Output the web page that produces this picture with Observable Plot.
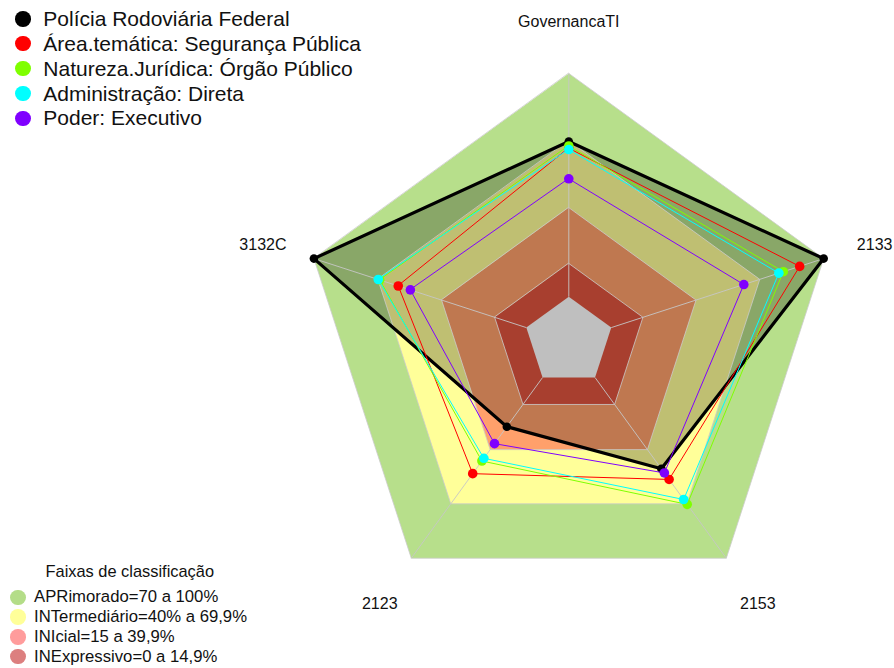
<!DOCTYPE html>
<html>
<head>
<meta charset="utf-8">
<script src="https://cdn.jsdelivr.net/npm/d3@7"></script>
<script src="https://cdn.jsdelivr.net/npm/@observablehq/plot@0.6"></script>
<style>
  body { margin: 0; background: #fff; font-family: "Liberation Sans", Arial, sans-serif; }
  #wrap { position: relative; width: 894px; height: 668px; overflow: hidden; }
  #wrap svg { position: absolute; left: 0; top: 0; }
  .row { position: absolute; display: flex; align-items: center; white-space: nowrap; color: #111; }
  .dot { border-radius: 50%; flex: none; }
  .ttl { position: absolute; white-space: nowrap; color: #111; }
</style>
</head>
<body>
<div id="wrap"></div>
<script>
// ---- data ----
const axisLabels = ["GovernancaTI", "2133", "2153", "2123", "3132C"];
const seriesNames = [
  "Polícia Rodoviária Federal",
  "Área.temática: Segurança Pública",
  "Natureza.Jurídica: Órgão Público",
  "Administração: Direta",
  "Poder: Executivo"
];
const prf           = [69.5, 100.0, 50.5, 27.2, 100.0];
const areaTematica  = [66.5,  88.7, 56.4, 53.2,  60.3];
const natureza      = [67.5,  81.0, 70.2, 46.2,  69.0];
const administracao = [65.9,  78.9, 67.5, 44.7,  69.7];
const poder         = [52.8,  62.4, 52.8, 36.6,  54.6];
const bandUpper = [100, 69.9, 39.9, 14.9];
const bandNames = [
  "APRimorado=70 a 100%",
  "INTermediário=40% a 69,9%",
  "INIcial=15 a 39,9%",
  "INExpressivo=0 a 14,9%"
];
const legendTitle = "Faixas de classificação";

// ---- palette ----
const seriesColors = ["#000000", "#ff0000", "#7fff00", "#00ffff", "#8000ff"];
const bandColors = ["#b7df8b", "#ffff99", "#ffa06b", "#e0553f"];
const bandLegendColors = ["#b4dd88", "#ffff99", "#ff9c9c", "#dc7f7f"];

const seriesValues = [prf, areaTematica, natureza, administracao, poder];

// ---- geometry helpers (radial scale with inner offset) ----
const r0 = 1 / 6;
const rad = v => r0 + (v / 100) * (1 - r0);
const ang = i => Math.PI / 2 - i * 2 * Math.PI / axisLabels.length;
const ring = vals => axisLabels.map((a, i) => ({
  axis: a,
  value: vals[i],
  px: rad(vals[i]) * Math.cos(ang(i)),
  py: rad(vals[i]) * Math.sin(ang(i))
}));
const constRing = v => ring(axisLabels.map(() => v));

const marks = [];
// background bands
bandUpper.forEach((u, k) => {
  marks.push(Plot.line(constRing(u), {x: "px", y: "py", curve: "linear-closed", fill: bandColors[k], stroke: "none"}));
});
// empty centre
marks.push(Plot.line(constRing(0), {x: "px", y: "py", curve: "linear-closed", fill: "#ffffff", stroke: "none"}));
// main series translucent fill
marks.push(Plot.line(ring(prf), {x: "px", y: "py", curve: "linear-closed", fill: "#000000", fillOpacity: 0.25, stroke: "none"}));
// band edges
bandUpper.forEach(u => {
  marks.push(Plot.line(constRing(u), {x: "px", y: "py", curve: "linear-closed", stroke: "#cccccc", strokeWidth: 0.8, fill: "none"}));
});
// axes
marks.push(Plot.link(axisLabels, {
  x1: (d, i) => rad(0) * Math.cos(ang(i)),
  y1: (d, i) => rad(0) * Math.sin(ang(i)),
  x2: (d, i) => rad(100) * Math.cos(ang(i)),
  y2: (d, i) => rad(100) * Math.sin(ang(i)),
  stroke: "#c6c6c6", strokeWidth: 0.9
}));
// series
seriesValues.forEach((vals, s) => {
  const pts = ring(vals);
  marks.push(Plot.line(pts, {x: "px", y: "py", curve: "linear-closed", stroke: seriesColors[s], strokeWidth: s === 0 ? 3.2 : 1, fill: "none"}));
  marks.push(Plot.dot(pts, {x: "px", y: "py", r: s === 0 ? 4.3 : 4.8, fill: seriesColors[s], stroke: "none"}));
});
// axis labels
marks.push(Plot.text(axisLabels, {
  x: (d, i) => 1.2 * Math.cos(ang(i)),
  y: (d, i) => 1.2 * Math.sin(ang(i)),
  text: d => d,
  fontSize: 16,
  dy: 2.5,
  fill: "#111",
  textAnchor: "middle"
}));

const R = 268, cx = 568.3, cy = 340.9, W = 894, H = 668;
const chart = Plot.plot({
  width: W,
  height: H,
  marginLeft: cx - R,
  marginRight: W - (cx + R),
  marginTop: cy - R,
  marginBottom: H - (cy + R),
  x: {domain: [-1, 1], axis: null},
  y: {domain: [-1, 1], axis: null},
  style: {fontFamily: "'Liberation Sans', Arial, sans-serif", background: "transparent", overflow: "visible"},
  marks
});
const wrap = document.getElementById("wrap");
wrap.appendChild(chart);

// ---- legends (HTML) ----
function addRow(text, color, top, left, dotSize, fontSize, gap) {
  const row = document.createElement("div");
  row.className = "row";
  row.style.left = left + "px";
  row.style.top = top + "px";
  row.style.height = "0px";
  row.style.fontSize = fontSize + "px";
  const dot = document.createElement("span");
  dot.className = "dot";
  dot.style.width = dotSize + "px";
  dot.style.height = dotSize + "px";
  dot.style.background = color;
  dot.style.marginRight = gap + "px";
  const t = document.createElement("span");
  t.textContent = text;
  row.appendChild(dot);
  row.appendChild(t);
  wrap.appendChild(row);
}
seriesNames.forEach((n, i) => addRow(n, seriesColors[i], 18.8 + i * 24.9, 15.3, 15.5, 21, 12.5));
const title = document.createElement("div");
title.className = "ttl";
title.textContent = legendTitle;
title.style.fontSize = "16.4px";
title.style.left = "45.5px";
title.style.top = (571 - 10) + "px";
title.style.lineHeight = "20px";
wrap.appendChild(title);
bandNames.forEach((n, i) => addRow(n, bandLegendColors[i], 597.3 + i * 19.8, 10, 15.5, 16.7, 8.6));
</script>
</body>
</html>
